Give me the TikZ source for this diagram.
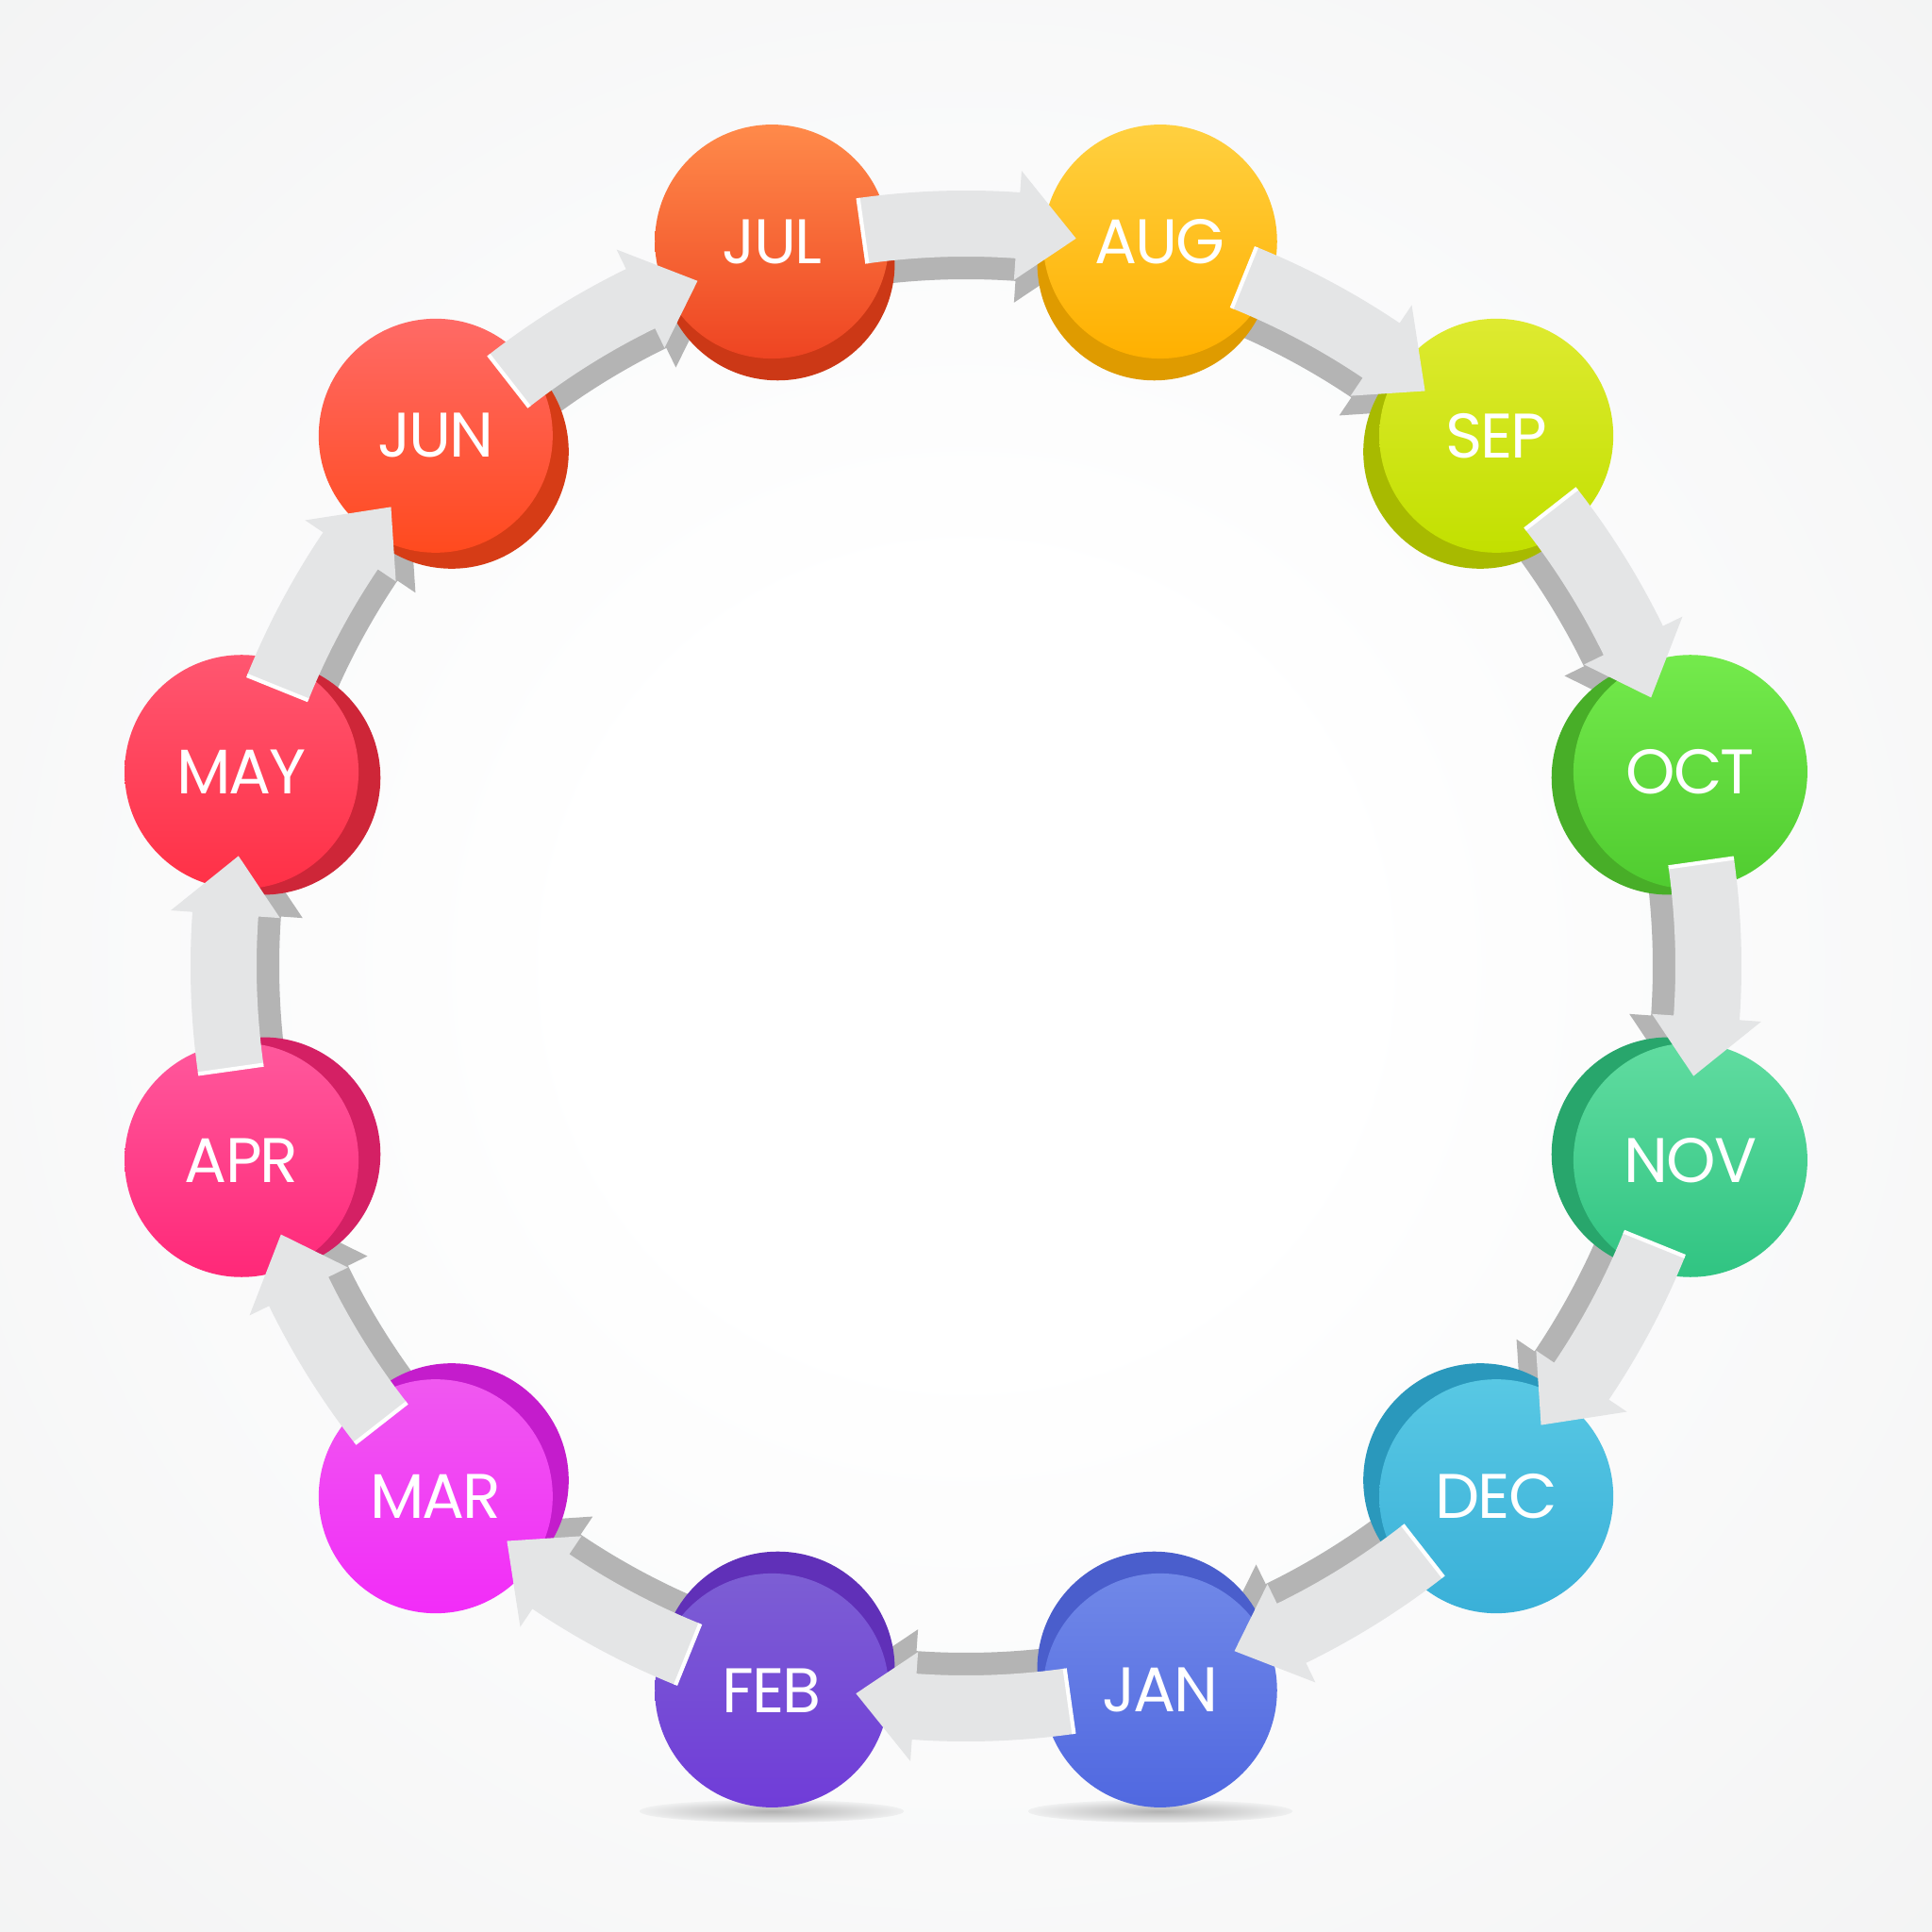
\documentclass[tikz,border=0pt]{standalone}
\usepackage{fontspec}
\newfontfamily\monthfont{Poppins}[LetterSpace=-3]
\usetikzlibrary{calc}
\definecolor{BgEdge}{HTML}{E0E1E2}
\definecolor{ArrowFace}{HTML}{E4E5E6}
\definecolor{ArrowSide}{HTML}{B4B4B4}
\pgfdeclareradialshading{backglow}{\pgfpoint{0bp}{0bp}}{color(0bp)=(white); color(10bp)=(white); color(40bp)=(BgEdge!45!white); color(71bp)=(BgEdge)}

% one curved arrow of the ring, #1 = centre, #2 = angle half way between two months
\newcommand{\ringarrow}[3]{%
  \fill[#3] ($(#1)+(#2+8:8.22)$) arc[start angle=#2+8, end angle=#2-4, radius=8.22]
    -- ($(#1)+(#2-4:8.45)$) -- ($(#1)+(#2-8.6:7.8)$) -- ($(#1)+(#2-4:7.29)$)
    -- ($(#1)+(#2-4:7.52)$) arc[start angle=#2-4, end angle=#2+8, radius=7.52] -- cycle;
}

\begin{document}
\begin{tikzpicture}[
  monthface/.style={circle, minimum size=2.48cm, inner sep=0pt, text=white, font=\monthfont\fontsize{19}{19}\selectfont},
  arrowside/.style={fill=ArrowSide},
  arrowface/.style={fill=ArrowFace},
  floorshadow/.style={inner color=black!30, outer color=BgEdge!50!white}
]
\useasboundingbox (0,0) rectangle (20.48,20.48);
\shade[shading=backglow] (0,0) rectangle (20.48,20.48);
\coordinate (ring) at (10.24,10.24);

% shadows under the two bottom discs
\shade[floorshadow] (8.18,1.28) ellipse[x radius=1.4, y radius=0.12];
\shade[floorshadow] (12.30,1.28) ellipse[x radius=1.4, y radius=0.12];

% arrow sides
\foreach \m in {90,60,...,-240} {
  \coordinate (inner) at ($(ring)+(\m+180:0.24)$);
  \ringarrow{inner}{\m}{arrowside}
}

% month discs
\foreach \name/\ang/\topc/\botc/\sidec in {
    JUL/105/FF8A4A/EE4422/CC3816, AUG/75/FFD040/FFB000/DF9B00,
    SEP/45/DEEA30/C2E000/A8BA00, OCT/15/74EA4C/50CC30/48AE28,
    NOV/-15/60DCA0/30C482/28A66C, DEC/-45/58C8E4/3AB0D8/2A98BC,
    JAN/-75/7088E8/5068E0/4A5ECC, FEB/-105/7C5ED4/703CD8/6030B8,
    MAR/-135/F058F0/F22CF8/C41CCC, APR/-165/FF589C/FF2878/D42064,
    MAY/165/FF5670/FF3046/CE2638, JUN/135/FF6A66/FF4A1E/D63C16} {
  \definecolor{sidecol}{HTML}{\sidec}
  \definecolor{topcol}{HTML}{\topc}
  \definecolor{botcol}{HTML}{\botc}
  \fill[sidecol] ($(ring)+(\ang:7.71)$) circle[radius=1.24];
  \node[monthface, top color=topcol, bottom color=botcol] (\name) at ($(ring)+(\ang:7.95)$) {\name};
}

% arrow faces
\foreach \m in {90,60,...,-240} {
  \ringarrow{ring}{\m}{arrowface}
  \draw[white, line width=1.2pt] ($(ring)+(\m+8:8.22)$) -- ($(ring)+(\m+8:7.52)$);
}

\end{tikzpicture}
\end{document}
